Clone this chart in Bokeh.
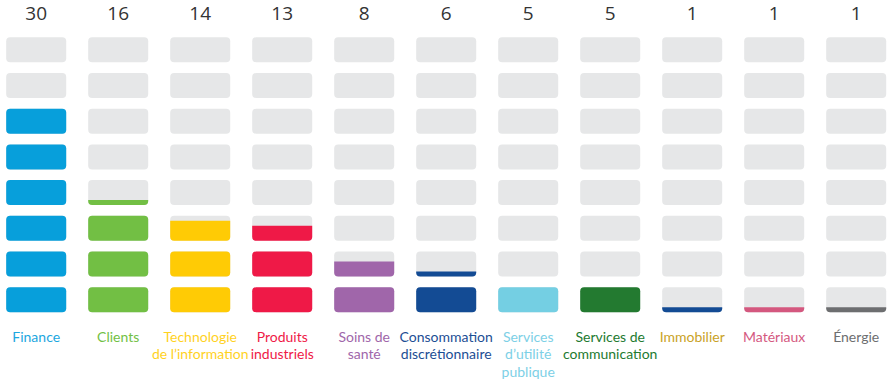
import numpy as np
from bokeh.plotting import figure
from bokeh.models import Range1d, ColumnDataSource
from bokeh.embed import file_html
from bokeh.resources import INLINE
from bokeh.core.properties import value

categories = ["Finance", "Clients", "Technologie\nde l’information", "Produits\nindustriels",
              "Soins de\nsanté", "Consommation\ndiscrétionnaire", "Services\nd’utilité\npublique",
              "Services de\ncommunication", "Immobilier", "Matériaux", "Énergie"]
values = [30, 16, 14, 13, 8, 6, 5, 5, 1, 1, 1]
bar_colors = ["#079fdb", "#72bf44", "#ffcb05", "#ef1947", "#a066aa", "#134b94",
              "#74cfe3", "#237a30", "#134b94", "#d4587f", "#6d6e70"]
label_colors = ["#1ca7e0", "#72bf44", "#ffd21f", "#ef1947", "#a066aa", "#1c4e94",
                "#7dd0e6", "#237a30", "#c9a227", "#d4587f", "#6d6e70"]
UNIT = 5      # value represented by one full cell
ROWS = 8      # cells per column

HALF_W = 0.366
CELL_H = 0.70
LABEL_Y0 = -0.672
LINE_STEP = 0.496

n = len(categories)
xs = np.arange(n)

bg = dict(left=[], right=[], bottom=[], top=[])
full = dict(left=[], right=[], bottom=[], top=[], color=[])
part = dict(left=[], right=[], bottom=[], top=[], color=[])
for i, v in enumerate(values):
    for r in range(ROWS):
        bg["left"].append(i - HALF_W); bg["right"].append(i + HALF_W)
        bg["bottom"].append(r); bg["top"].append(r + CELL_H)
        f = min(max(v / UNIT - r, 0), 1)
        if f <= 0:
            continue
        d = full if f >= 1 else part
        d["left"].append(i - HALF_W); d["right"].append(i + HALF_W)
        d["bottom"].append(r); d["top"].append(r + CELL_H * f)
        d["color"].append(bar_colors[i])

lines = dict(x=[], y=[], t=[], c=[])
for i, lab in enumerate(categories):
    for k, ln in enumerate(lab.split("\n")):
        lines["x"].append(i); lines["y"].append(LABEL_Y0 - k * LINE_STEP)
        lines["t"].append(ln); lines["c"].append(label_colors[i])

p = figure(width=888, height=382, output_backend="svg", toolbar_location=None,
           x_range=Range1d(-0.4354, 10.394), y_range=Range1d(-1.969, 8.731),
           min_border=0, background_fill_color="white", border_fill_color="white")
p.axis.visible = False
p.grid.visible = False
p.outline_line_color = None

p.quad(source=ColumnDataSource(bg), left="left", right="right", bottom="bottom", top="top",
       fill_color="#e6e7e8", line_color=None, border_radius=4)
p.quad(source=ColumnDataSource(full), left="left", right="right", bottom="bottom", top="top",
       fill_color="color", line_color=None, border_radius=4)
p.quad(source=ColumnDataSource(part), left="left", right="right", bottom="bottom", top="top",
       fill_color="color", line_color=None, border_radius=(0, 0, 4, 4))

nsrc = ColumnDataSource(dict(x=xs, num=[str(v) for v in values]))
p.text(x="x", y=8.366, text="num", source=nsrc, text_align="center", text_baseline="middle",
       text_font=value("Open Sans"), text_font_size="19px", text_color="#333333")
p.text(x="x", y="y", text="t", source=ColumnDataSource(lines), text_align="center",
       text_baseline="alphabetic", text_font=value("Lato"),
       text_font_size="14px", text_color="c")

open("out.html", "w").write(file_html(p, INLINE))
